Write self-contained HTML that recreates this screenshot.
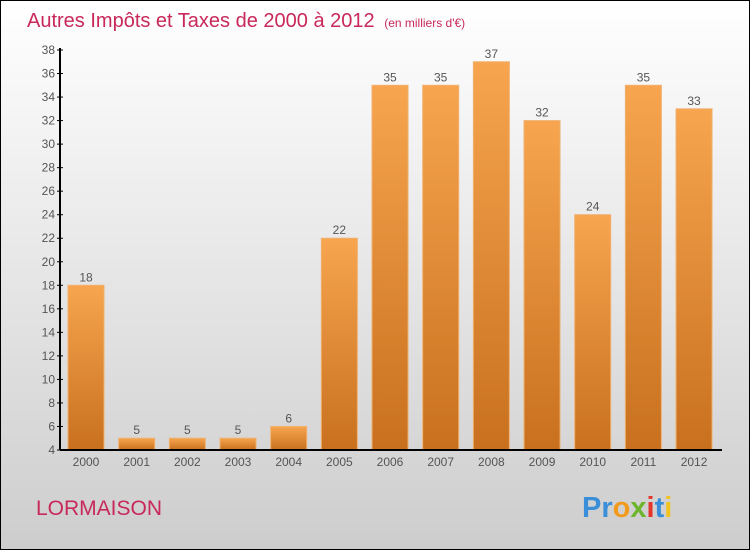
<!DOCTYPE html>
<html><head><meta charset="utf-8"><style>
body{margin:0;width:750px;height:550px;overflow:hidden;font-family:"Liberation Sans",sans-serif}
svg{display:block}
</style></head><body>
<svg width="750" height="550" id="chart">
<defs>
<linearGradient id="bg" x1="0" y1="0" x2="0" y2="1"><stop offset="0" stop-color="#ffffff"/><stop offset="1" stop-color="#cdcdcd"/></linearGradient>
<linearGradient id="bar" x1="0" y1="0" x2="0" y2="1"><stop offset="0" stop-color="#f7a54f"/><stop offset="1" stop-color="#c8701e"/></linearGradient>
</defs>
<rect x="0.5" y="0.5" width="749" height="549" fill="url(#bg)" stroke="#000"/>
<text x="27" y="27" font-size="20" fill="#c8285a">Autres Impôts et Taxes de 2000 à 2012 <tspan font-size="12" dx="4">(en milliers d'€)</tspan></text>
<g id="grid"></g>
<g id="bars"></g>
<line x1="60" y1="48" x2="60" y2="450" stroke="#000" stroke-width="2"/>
<line x1="60" y1="450" x2="722" y2="450" stroke="#000" stroke-width="2"/>
<text x="36" y="515" font-size="21" fill="#c8285a">LORMAISON</text>
<text x="582" y="517" font-size="29" font-weight="bold"><tspan fill="#3a8fd8">Pr</tspan><tspan fill="#f29a1e">o</tspan><tspan fill="#6cb52d">x</tspan><tspan fill="#e4342c">i</tspan><tspan fill="#3a8fd8">t</tspan><tspan fill="#f2c21e">i</tspan></text>
</svg>
<script>
const categories=["2000","2001","2002","2003","2004","2005","2006","2007","2008","2009","2010","2011","2012"];
const values=[18,5,5,5,6,22,35,35,37,32,24,35,33];
const yTicks=[4,6,8,10,12,14,16,18,20,22,24,26,28,30,32,34,36,38];
const NS="http://www.w3.org/2000/svg";
const yMin=4,yMax=38,y0=450,y1=50;
function y(v){return y0-(v-yMin)/(yMax-yMin)*(y0-y1);}
function x(i){return 86+i*50.67;}
function mk(t,a,p){const e=document.createElementNS(NS,t);for(const k in a)e.setAttribute(k,a[k]);p.appendChild(e);return e;}
const g=document.getElementById('grid'),b=document.getElementById('bars');
yTicks.forEach(v=>{
 const l=mk('line',{x1:57,x2:63,y1:y(v),y2:y(v),stroke:'#000'},g);
 
 
 const t=mk('text',{x:55,y:y(v)+4,'text-anchor':'end','font-size':12,fill:'#555'},g);
 t.textContent=v;
 
 
});
categories.forEach((c,i)=>{
 const cx=x(i),top=y(values[i]);
 const r=mk('rect',{x:cx-18,y:top,width:36,height:y0-top,fill:'url(#bar)',stroke:'#f0b070','stroke-width':1},b);
 
 
 const v=mk('text',{x:cx,y:top-4,'text-anchor':'middle','font-size':12,fill:'#555'},b);
 v.textContent=values[i];
 
 
 const t=mk('text',{x:cx,y:466,'text-anchor':'middle','font-size':12,fill:'#555'},b);
 t.textContent=c;
 
 
});
</script>
</body></html>
